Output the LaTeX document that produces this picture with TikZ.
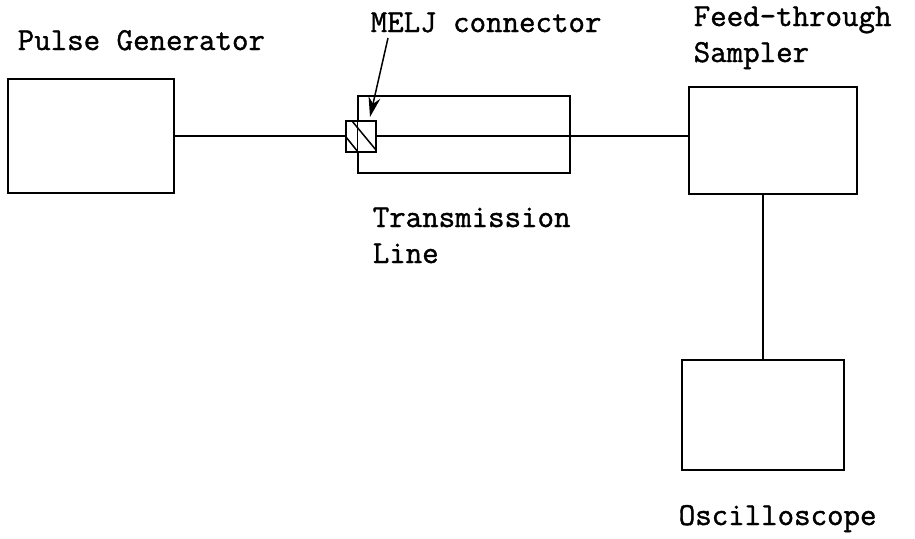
\documentclass[tikz,border=0pt]{standalone}
\usepackage{fontspec}
\usepackage{tikz}
\usetikzlibrary{arrows.meta}

\newfontfamily\lblfont{Latin Modern Mono}[FakeBold=1.2]

\tikzset{
    unit/.style={draw, line width=1.5pt, inner sep=0pt},
    lbl/.style={anchor=base west, inner sep=0pt, align=left,
        font=\lblfont\fontsize{32}{36}\selectfont}
}

\begin{document}
\begin{tikzpicture}[x=1pt, y=-1pt, line width=1.5pt]
    \useasboundingbox (0, 0) rectangle (915, 538);

    % Boxes
    \node[unit, minimum width=166pt, minimum height=114pt] (gen) at (91, 136) {};
    \node[unit, minimum width=212pt, minimum height=77pt] (tline) at (464, 134.5) {};
    \node[unit, fill=white, minimum width=30pt, minimum height=31pt] (conn) at (361, 136.5) {};
    \node[unit, minimum width=168pt, minimum height=107pt] (sampler) at (773, 140.5) {};
    \node[unit, minimum width=162pt, minimum height=110pt] (scope) at (763, 415) {};

    % tline edge shows through the connector
    \draw (tline.north west) -- (tline.south west);
    \draw (346, 137) -- (358, 152);
    \draw (352, 121) -- (376, 150);

    % Signal path
    \draw (gen.east) -- (gen.east -| conn.west);
    \draw (conn.east |- gen.east) -- (gen.east -| sampler.west);
    \draw (scope.north |- sampler.south) -- (scope.north);

    % Labels (base = last line)
    \node[lbl] (genlbl) at (17, 50) {Pulse Generator};
    \node[lbl] (melj) at (370, 32) {MELJ connector};
    \node[lbl] (tlbl) at (372, 263) {Transmission\\Line};
    \node[lbl] (slbl) at (693, 62) {Feed-through\\Sampler};
    \node[lbl] (scopelbl) at (678, 525) {Oscilloscope};

    % Pointer to connector
    \coordinate (tail) at (388, 38);
    \coordinate (tip) at (370, 117);
    \draw[-{Stealth[length=20pt, width=12pt]}] (tail) -- (tip);
\end{tikzpicture}
\end{document}
